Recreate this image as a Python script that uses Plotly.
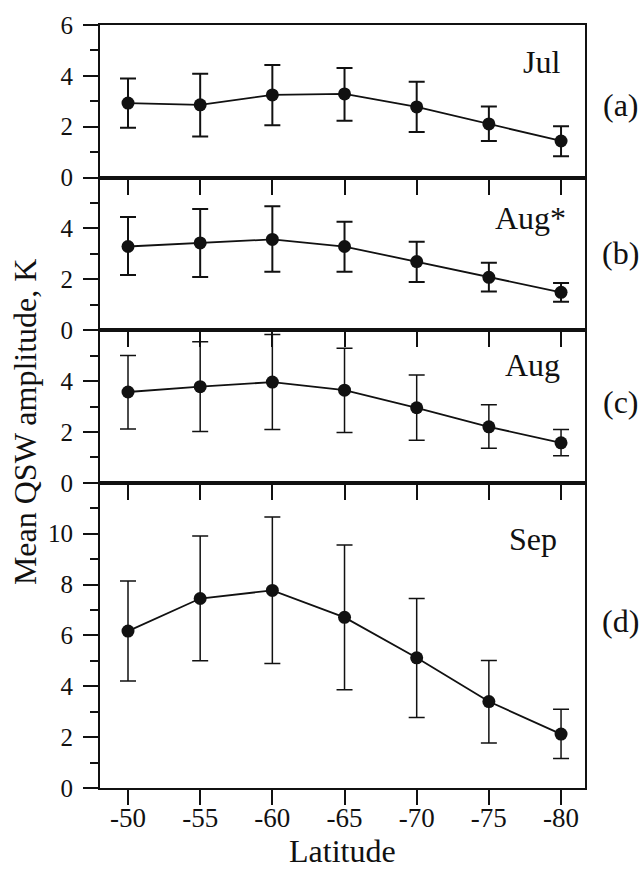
import plotly.graph_objects as go
from plotly.subplots import make_subplots

# ---- data ----
latitude = [-50, -55, -60, -65, -70, -75, -80]
lat_ticks = [-50, -55, -60, -65, -70, -75, -80]
lat_tick_labels = ["-50", "-55", "-60", "-65", "-70", "-75", "-80"]

jul_mean = [2.93, 2.86, 3.25, 3.29, 2.78, 2.11, 1.44]
jul_upper = [3.90, 4.08, 4.43, 4.31, 3.77, 2.80, 2.02]
jul_lower = [1.96, 1.62, 2.06, 2.24, 1.79, 1.44, 0.84]

augs_mean = [3.29, 3.43, 3.57, 3.29, 2.70, 2.08, 1.49]
augs_upper = [4.45, 4.77, 4.87, 4.26, 3.48, 2.65, 1.86]
augs_lower = [2.17, 2.09, 2.30, 2.30, 1.90, 1.52, 1.12]

aug_mean = [3.57, 3.78, 3.96, 3.64, 2.95, 2.20, 1.57]
aug_upper = [5.01, 5.55, 5.83, 5.29, 4.24, 3.07, 2.10]
aug_lower = [2.12, 2.02, 2.10, 1.98, 1.67, 1.36, 1.06]

sep_mean = [6.17, 7.45, 7.77, 6.71, 5.12, 3.40, 2.12]
sep_upper = [8.14, 9.91, 10.66, 9.55, 7.45, 5.01, 3.10]
sep_lower = [4.21, 5.00, 4.90, 3.86, 2.77, 1.77, 1.16]

month_labels = ["Jul", "Aug*", "Aug", "Sep"]
panel_labels = ["(a)", "(b)", "(c)", "(d)"]
y_ranges = [[0, 6], [0, 6], [0, 6], [0, 12]]
y_tickvals = [[0, 2, 4, 6], [0, 2, 4], [0, 2, 4], [0, 2, 4, 6, 8, 10]]

series = [
    (jul_mean, jul_upper, jul_lower),
    (augs_mean, augs_upper, augs_lower),
    (aug_mean, aug_upper, aug_lower),
    (sep_mean, sep_upper, sep_lower),
]

FONT = "Liberation Serif"
BLACK = "#111111"
bar_thickness = [2.0, 2.0, 1.5, 1.5]

fig = make_subplots(rows=4, cols=1, shared_xaxes=False, vertical_spacing=0,
                    row_heights=[6, 6, 6, 12])

for i, (m, hi, lo) in enumerate(series):
    row = i + 1
    fig.add_trace(go.Scatter(
        x=latitude, y=m, mode="lines+markers",
        line=dict(color=BLACK, width=1.8),
        marker=dict(color=BLACK, size=13),
        error_y=dict(type="data", symmetric=False,
                     array=[h - v for h, v in zip(hi, m)],
                     arrayminus=[v - l for v, l in zip(m, lo)],
                     color=BLACK, thickness=bar_thickness[i], width=8),
        showlegend=False,
    ), row=row, col=1)

    fig.update_yaxes(row=row, col=1,
                     range=y_ranges[i], tickvals=y_tickvals[i],
                     ticks="outside", ticklen=15, tickwidth=2, tickcolor=BLACK,
                     minor=dict(dtick=1, tick0=0, ticks="outside", ticklen=8,
                                tickwidth=2, tickcolor=BLACK),
                     showline=True, linewidth=2, linecolor=BLACK, mirror=True,
                     showgrid=False, zeroline=False,
                     tickfont=dict(family=FONT, size=25, color=BLACK),
                     ticklabelstandoff=5)
    fig.update_xaxes(row=row, col=1,
                     range=[-48.06, -81.66], tickvals=lat_ticks,
                     ticktext=lat_tick_labels,
                     showticklabels=(row == 4),
                     ticks="outside", ticklen=15, tickwidth=2, tickcolor=BLACK,
                     showline=True, linewidth=2, linecolor=BLACK, mirror=True,
                     showgrid=False, zeroline=False,
                     tickfont=dict(family=FONT, size=27, color=BLACK),
                     ticklabelstandoff=-10)

# month labels inside panels and panel letters to the right
month_pos = [(0.953, 0.757), (0.965, 0.734), (0.953, 0.77), (0.946, 0.816)]
letter_y = [0.479, 0.508, 0.528, 0.547]
for i in range(4):
    suffix = "" if i == 0 else str(i + 1)
    fig.add_annotation(text=month_labels[i], xref=f"x{suffix} domain", yref=f"y{suffix} domain",
                       x=month_pos[i][0], y=month_pos[i][1], xanchor="right", yanchor="middle",
                       showarrow=False, font=dict(family=FONT, size=32, color=BLACK))
    fig.add_annotation(text=panel_labels[i], xref="paper", yref=f"y{suffix} domain",
                       x=1.116, y=letter_y[i], xanchor="right", yanchor="middle",
                       showarrow=False, font=dict(family=FONT, size=32, color=BLACK))

fig.add_annotation(text="Mean QSW amplitude, K", xref="paper", yref="paper",
                   x=-0.156, y=0.48, xanchor="center", yanchor="middle", textangle=-90,
                   showarrow=False, font=dict(family=FONT, size=32, color=BLACK))

fig.add_annotation(text="Latitude", xref="paper", yref="paper",
                   x=0.5, y=-0.083, xanchor="center", yanchor="middle",
                   showarrow=False, font=dict(family=FONT, size=32, color=BLACK))

fig.update_layout(width=643, height=869,
                  margin=dict(l=100, r=58, t=18, b=81),
                  paper_bgcolor="white", plot_bgcolor="white",
                  font=dict(family=FONT, color=BLACK))

fig.write_html("out.html", config={"displayModeBar": False},
               post_script="document.body.style.margin='0';")
